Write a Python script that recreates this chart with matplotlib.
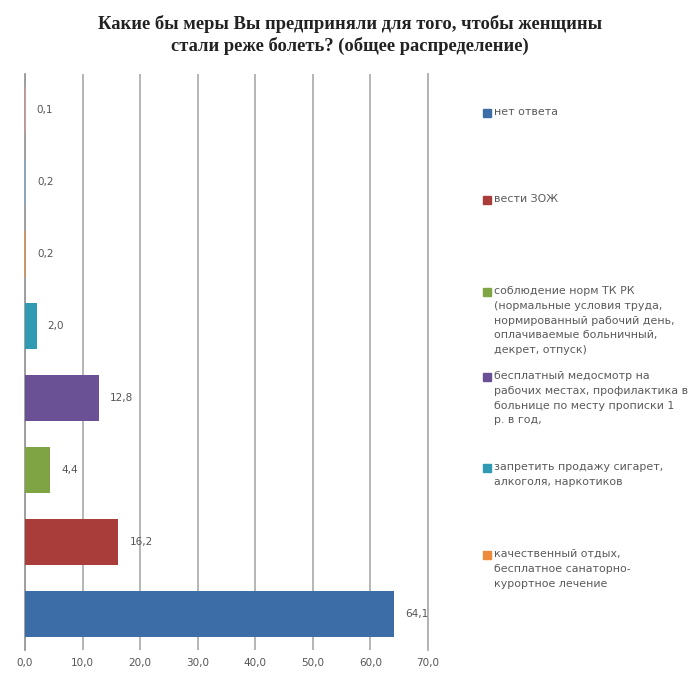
import matplotlib
matplotlib.use("Agg")
import matplotlib.pyplot as plt
from matplotlib.patches import Rectangle

# данные (снизу вверх, как в Excel)
values = [64.1, 16.2, 4.4, 12.8, 2.0, 0.2, 0.2, 0.1]
colors = ["#3d6da6", "#a93d3a", "#7ea443", "#6a5095", "#2f9ab2", "#ee8a3c", "#7fa7d6", "#d99694"]
value_labels = ["64,1", "16,2", "4,4", "12,8", "2,0", "0,2", "0,2", "0,1"]
xticks = [0, 10, 20, 30, 40, 50, 60, 70]
xtick_labels = ["0,0", "10,0", "20,0", "30,0", "40,0", "50,0", "60,0", "70,0"]

legend_labels = [
    "нет ответа",
    "вести ЗОЖ",
    "соблюдение норм ТК РК\n(нормальные условия труда,\nнормированный рабочий день,\nоплачиваемые больничный,\nдекрет, отпуск)",
    "бесплатный медосмотр на\nрабочих местах, профилактика в\nбольнице по месту прописки 1\nр. в год,",
    "запретить продажу сигарет,\nалкоголя, наркотиков",
    "качественный отдых,\nбесплатное санаторно-\nкурортное лечение",
]
legend_colors = colors[:6]
title = "Какие бы меры Вы предприняли для того, чтобы женщины\nстали реже болеть? (общее распределение)"

W, H = 699, 678
fig = plt.figure(figsize=(W / 100, H / 100), dpi=100)
ax = fig.add_axes([25 / W, 1 - 650 / H, 403 / W, 576 / H])

ypos = list(range(len(values)))
ax.barh(ypos, values, height=0.65, color=colors, zorder=3)
for y, v, lab in zip(ypos, values, value_labels):
    ax.annotate(lab, (v, y), xytext=(8, 0), textcoords="offset points",
                va="center", ha="left", fontsize=7.5, color="#555555")

ax.set_xlim(0, 70)
ax.set_ylim(-0.5, len(values) - 0.5)
ax.set_xticks(xticks)
ax.set_xticklabels(xtick_labels, fontsize=7.5, color="#555555")
ax.set_yticks([])
ax.grid(axis="x", color="#b0b0b0", linewidth=1.3, zorder=0)
ax.tick_params(axis="x", length=0, pad=6)
for s in ["top", "bottom"]:
    ax.spines[s].set_visible(False)
ax.spines["right"].set_color("#b0b0b0")
ax.spines["right"].set_linewidth(1.3)
ax.spines["left"].set_color("#999999")
ax.spines["left"].set_linewidth(1.3)

fig.text(350 / W, 1 - 35 / H, title, ha="center", va="center",
         family="Liberation Serif", fontweight="bold", fontsize=13.3,
         color="#222222", linespacing=1.3)

# легенда вручную, как в Excel
leg_y = [113, 200, 292, 377, 468, 555]
for lab, c, y in zip(legend_labels, legend_colors, leg_y):
    fig.patches.append(Rectangle((483 / W, 1 - (y + 4) / H), 8 / W, 8 / H,
                                 transform=fig.transFigure, color=c))
    fig.text(494 / W, 1 - (y - 6) / H, lab, ha="left", va="top",
             fontsize=7.9, color="#5a5a5a", linespacing=1.6)

fig.savefig("out.png", dpi=100)
